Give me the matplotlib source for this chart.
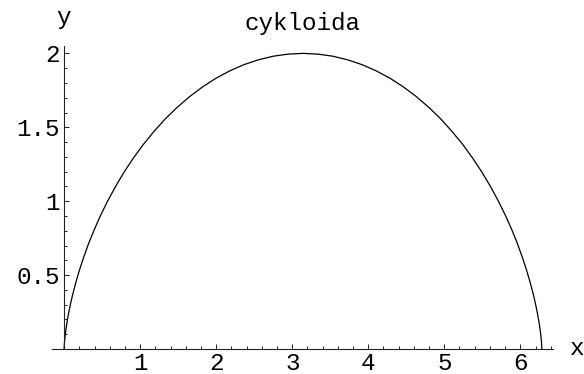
import numpy as np
import matplotlib
matplotlib.use("Agg")
import matplotlib.pyplot as plt
from matplotlib.ticker import FixedLocator

# points
x_pts = [0.000, 0.000, 0.001, 0.004, 0.010, 0.020, 0.034, 0.053, 0.078,
         0.111, 0.150, 0.198, 0.254, 0.319, 0.394, 0.477, 0.571, 0.674,
         0.786, 0.908, 1.040, 1.180, 1.328, 1.485, 1.649, 1.820, 1.997,
         2.179, 2.366, 2.557, 2.750, 2.945, 3.142, 3.338, 3.533, 3.726,
         3.917, 4.104, 4.286, 4.463, 4.634, 4.798, 4.955, 5.103, 5.244,
         5.375, 5.497, 5.609, 5.712, 5.806, 5.890, 5.964, 6.029, 6.085,
         6.133, 6.173, 6.205, 6.230, 6.250, 6.264, 6.273, 6.279, 6.282,
         6.283, 6.283]
y_pts = [0.000, 0.005, 0.019, 0.043, 0.076, 0.118, 0.169, 0.227, 0.293,
         0.366, 0.444, 0.529, 0.617, 0.710, 0.805, 0.902, 1.000, 1.098,
         1.195, 1.290, 1.383, 1.471, 1.556, 1.634, 1.707, 1.773, 1.832,
         1.882, 1.924, 1.957, 1.981, 1.995, 2.000, 1.995, 1.981, 1.957,
         1.924, 1.882, 1.832, 1.773, 1.707, 1.634, 1.556, 1.471, 1.383,
         1.290, 1.195, 1.098, 1.000, 0.902, 0.805, 0.710, 0.617, 0.529,
         0.444, 0.366, 0.293, 0.227, 0.169, 0.118, 0.076, 0.043, 0.019,
         0.005, 0.000]

x_major = [1, 2, 3, 4, 5, 6]
y_major = [0.5, 1, 1.5, 2]
y_labels = ["0.5", "1", "1.5", "2"]

title = "cykloida"
font = "Liberation Mono"
fs = 17.5

W, H = 584, 374
fig = plt.figure(figsize=(W / 100, H / 100), dpi=100)
# axes box in pixel units: x from 52 to 553, y from 46 (top) to 349 (bottom)
ax = fig.add_axes([52 / W, (H - 349) / H, (553 - 52) / W, (349 - 46) / H])
ax.set_xlim(-0.16, 6.43)
ax.set_ylim(0, 2.05)

ax.plot(x_pts, y_pts, color="black", lw=0.9)

for s in ["top", "right"]:
    ax.spines[s].set_visible(False)
ax.spines["left"].set_position(("data", 0))
ax.spines["bottom"].set_position(("data", 0))
for s in ["left", "bottom"]:
    ax.spines[s].set_linewidth(0.8)
    ax.spines[s].set_color("#222222")
ax.patch.set_visible(False)

x_minor = [round(0.2 * i, 1) for i in range(1, 33) if i % 5 != 0]
y_minor = [round(0.1 * i, 1) for i in range(1, 21) if i % 5 != 0]

ax.set_xticks(x_major)
ax.set_xticklabels([str(v) for v in x_major])
ax.set_yticks(y_major)
ax.set_yticklabels(y_labels)
ax.xaxis.set_minor_locator(FixedLocator(x_minor))
ax.yaxis.set_minor_locator(FixedLocator(y_minor))

ax.tick_params(which="both", direction="in", color="#222222", width=0.7)
ax.tick_params(which="major", length=3.5)
ax.tick_params(which="minor", length=2)
ax.tick_params(axis="x", pad=2, labelsize=fs)
ax.tick_params(axis="y", pad=3, labelsize=fs)
for lab in ax.get_xticklabels() + ax.get_yticklabels():
    lab.set_fontfamily(font)

fig.text(303 / W, 1 - 30 / H, title, ha="center", va="baseline",
         fontsize=fs, family=font)
fig.text(63 / W, 1 - 24 / H, "y", ha="center", va="baseline",
         fontsize=fs, family=font)
fig.text(570 / W, 1 - 355 / H, "x", ha="left", va="baseline",
         fontsize=fs, family=font)

fig.savefig("out.png", dpi=100)
